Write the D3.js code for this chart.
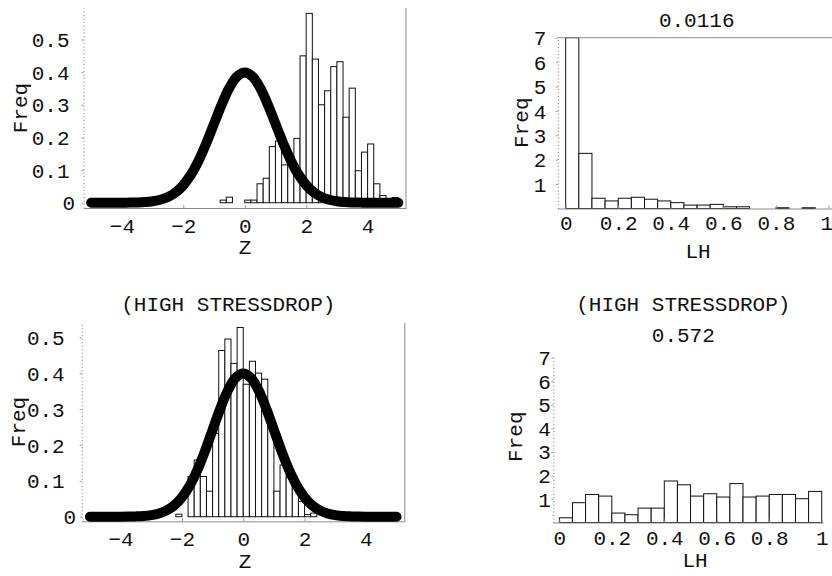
<!DOCTYPE html>
<html>
<head>
<meta charset="utf-8">
<style>
  body { margin: 0; background: #fff; }
  svg { display: block; background: #fff; }
  text { font-family: "Liberation Mono", "DejaVu Sans Mono", monospace; font-size: 21px; fill: #111; }
  .bar { fill: #fff; stroke: #111; stroke-width: 1; }
  .xaxis .domain { stroke: #8a8a8a; stroke-width: 1; }
  .yaxis .domain { stroke: #777; stroke-width: 1; stroke-dasharray: 1,2.5; }
  .tick line { stroke: #999; }
  .edge { stroke: #8a8a8a; stroke-width: 1; }
  .norm { fill: none; stroke: #000; stroke-width: 10; stroke-linecap: round; stroke-linejoin: round; }
</style>
<script src="https://d3js.org/d3.v7.min.js"></script>
</head>
<body>
<svg width="832" height="576"></svg>
<script>
// left edges of the Z histogram bins (width 0.2)
const zBins = [-3.0, -2.8, -2.6, -2.4, -2.2, -2.0, -1.8, -1.6, -1.4, -1.2,
               -1.0, -0.8, -0.6, -0.4, -0.2, 0.0, 0.2, 0.4, 0.6, 0.8,
               1.0, 1.2, 1.4, 1.6, 1.8, 2.0, 2.2, 2.4, 2.6, 2.8,
               3.0, 3.2, 3.4, 3.6, 3.8, 4.0, 4.2, 4.4, 4.6, 4.8];
const zFreqTop = [0, 0, 0, 0, 0, 0, 0, 0, 0, 0,
                  0, 0.008, 0.017, 0, 0, 0.008, 0.008, 0.058, 0.075, 0.172,
                  0.189, 0.116, 0.13, 0.197, 0.45, 0.58, 0.44, 0.30, 0.343, 0.417,
                  0.432, 0.262, 0.351, 0.098, 0.155, 0.18, 0.058, 0.022, 0.009, 0.016];
const zFreqBottom = [0, 0, 0, 0, 0.007, 0, 0.112, 0.158, 0.112, 0.071,
                     0.232, 0.463, 0.495, 0.427, 0.527, 0.369, 0.433, 0.40, 0.383, 0.26,
                     0.071, 0.144, 0.11, 0.085, 0.042, 0.006, 0.01, 0, 0, 0,
                     0, 0, 0, 0, 0, 0, 0, 0, 0, 0];

// left edges of the LH histogram bins (width 0.05)
const lhBins = [0, 0.05, 0.1, 0.15, 0.2, 0.25, 0.3, 0.35, 0.4, 0.45,
                0.5, 0.55, 0.6, 0.65, 0.7, 0.75, 0.8, 0.85, 0.9, 0.95];
const lhFreqTop = [14, 2.26, 0.42, 0.31, 0.42, 0.46, 0.38, 0.31, 0.24, 0.14,
                   0.14, 0.17, 0.07, 0.07, 0, 0, 0.03, 0, 0.03, 0];
const lhFreqBottom = [0.2, 0.84, 1.19, 1.12, 0.40, 0.33, 0.61, 0.61, 1.76, 1.60,
                      1.12, 1.22, 1.08, 1.65, 1.08, 1.12, 1.19, 1.19, 1.01, 1.32];

// standard normal curve
const curveZ = [-5, -4.75, -4.5, -4.25, -4, -3.75, -3.5, -3.25, -3, -2.75,
                -2.5, -2.25, -2, -1.75, -1.5, -1.25, -1, -0.75, -0.5, -0.25,
                0, 0.25, 0.5, 0.75, 1, 1.25, 1.5, 1.75, 2, 2.25,
                2.5, 2.75, 3, 3.25, 3.5, 3.75, 4, 4.25, 4.5, 4.75, 5];
const curvePdf = [0, 0, 0, 0, 0.0001, 0.0004, 0.0009, 0.002, 0.0044, 0.0091,
                  0.0175, 0.0317, 0.054, 0.0863, 0.1295, 0.1826, 0.242, 0.3011, 0.3521, 0.3867,
                  0.3989, 0.3867, 0.3521, 0.3011, 0.242, 0.1826, 0.1295, 0.0863, 0.054, 0.0317,
                  0.0175, 0.0091, 0.0044, 0.002, 0.0009, 0.0004, 0.0001, 0, 0, 0, 0];

const zTicks = [-4, -2, 0, 2, 4];
const zFreqTicks = [0, 0.1, 0.2, 0.3, 0.4, 0.5];
const lhTicks = [0, 0.2, 0.4, 0.6, 0.8, 1];
const lhFreqTicks = [1, 2, 3, 4, 5, 6, 7];

const svg = d3.select('svg');
const fmt = d3.format('');

function panel(p) {
    const g = svg.append('g');
    const top = p.y.domain()[1];

    g.selectAll('.bar')
        .data(p.bins)
        .join('rect')
        .classed('bar', true)
        .attr('x', d => p.x(d))
        .attr('width', d => p.x(d + p.binWidth) - p.x(d))
        .attr('y', (d, i) => p.y(Math.min(p.values[i], top)))
        .attr('height', (d, i) => p.y(0) - p.y(Math.min(p.values[i], top)));

    const xa = g.append('g')
        .attr('class', 'xaxis')
        .attr('transform', `translate(0,${p.y.range()[0]})`)
        .call(d3.axisBottom(p.x).tickValues(p.xTicks).tickFormat(fmt).tickSize(-3).tickSizeOuter(0));
    xa.selectAll('text')
        .attr('y', p.xLabelOff)
        .attr('dy', null)
        .attr('dx', (d, i, n) => (i === n.length - 1 ? (p.lastDx || 0) : 0));

    const ya = g.append('g')
        .attr('class', 'yaxis')
        .attr('transform', `translate(${p.x.range()[0]},0)`)
        .call(d3.axisLeft(p.y).tickValues(p.yTicks).tickFormat(fmt).tickSize(2).tickSizeOuter(0));
    ya.selectAll('text')
        .attr('x', d => (d === 0 ? p.zeroOff : p.yLabelOff))
        .attr('dy', '0.34em');

    if (p.curve) {
        const line = d3.line()
            .x(d => p.x(d[0]))
            .y(d => p.y(d[1]))
            .curve(d3.curveCatmullRom);
        g.append('path').attr('class', 'norm').attr('d', line(d3.zip(curveZ, curvePdf)));
    }
    if (p.rightEdge) {
        g.append('line').attr('class', 'edge')
            .attr('x1', p.x.range()[1]).attr('x2', p.x.range()[1])
            .attr('y1', p.y.range()[1]).attr('y2', p.y.range()[0]);
    }
    if (p.topEdge) {
        g.append('line').attr('class', 'edge')
            .attr('x1', p.x.range()[0]).attr('x2', p.x.range()[1])
            .attr('y1', p.y(top)).attr('y2', p.y(top));
    }

    g.append('text').attr('x', p.xTitle[0]).attr('y', p.xTitle[1])
        .attr('text-anchor', 'middle').text(p.xName);
    g.append('text')
        .attr('transform', `translate(${p.yTitle[0]},${p.yTitle[1]}) rotate(-90)`)
        .attr('text-anchor', 'middle').text('Freq');
    (p.titles || []).forEach(t => {
        g.append('text').attr('x', t[0]).attr('y', t[1])
            .attr('text-anchor', 'middle').text(t[2]);
    });
}

panel({
    x: d3.scaleLinear().domain([-5.25, 5.25]).range([83.5, 406]),
    y: d3.scaleLinear().domain([-0.0162, 0.5966]).range([208, 8]),
    bins: zBins, binWidth: 0.2, values: zFreqTop,
    xTicks: zTicks, yTicks: zFreqTicks,
    xLabelOff: 24.5, yLabelOff: -14, zeroOff: -8.5,
    curve: true, rightEdge: true,
    xName: 'Z', xTitle: [245, 254], yTitle: [27, 108]
});

panel({
    x: d3.scaleLinear().domain([-0.03, 1.03]).range([557.8, 836.3]),
    y: d3.scaleLinear().domain([0, 7]).range([208.5, 37.7]),
    bins: lhBins, binWidth: 0.05, values: lhFreqTop,
    xTicks: lhTicks, yTicks: lhFreqTicks,
    xLabelOff: 21.5, yLabelOff: -11.5, zeroOff: -11.5, lastDx: -2,
    topEdge: true,
    xName: 'LH', xTitle: [698, 258], yTitle: [528, 122.7],
    titles: [[696.7, 26.7, '0.0116']]
});

panel({
    x: d3.scaleLinear().domain([-5.27, 5.27]).range([81.7, 404.8]),
    y: d3.scaleLinear().domain([-0.0128, 0.5396]).range([521.3, 323]),
    bins: zBins, binWidth: 0.2, values: zFreqBottom,
    xTicks: zTicks, yTicks: zFreqTicks,
    xLabelOff: 24.5, yLabelOff: -17, zeroOff: -5.5,
    curve: true, rightEdge: true,
    xName: 'Z', xTitle: [245, 568], yTitle: [24.5, 422],
    titles: [[228.3, 310.5, '(HIGH STRESSDROP)']]
});

panel({
    x: d3.scaleLinear().domain([-0.023, 1.006]).range([553.3, 823.3]),
    y: d3.scaleLinear().domain([0, 7.02]).range([522.5, 357]),
    bins: lhBins, binWidth: 0.05, values: lhFreqBottom,
    xTicks: lhTicks, yTicks: lhFreqTicks,
    xLabelOff: 22.3, yLabelOff: -2.5, zeroOff: -2.5,
    xName: 'LH', xTitle: [695, 567], yTitle: [522, 436.7],
    titles: [[683.3, 311, '(HIGH STRESSDROP)'], [683.3, 341.7, '0.572']]
});
</script>
</body>
</html>
